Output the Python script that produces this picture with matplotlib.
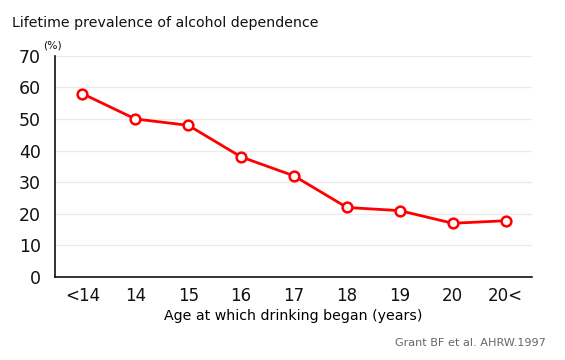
import matplotlib
matplotlib.use("Agg")
import matplotlib.pyplot as plt

# age groups and prevalence (%)
ages = ["<14", "14", "15", "16", "17", "18", "19", "20", "20<"]
prevalence = [58, 50, 48, 38, 32, 22, 21, 17, 17.8]
yticks = [0, 10, 20, 30, 40, 50, 60, 70]

plt.rcParams['font.family'] = ['DejaVu Sans']

fig = plt.figure(figsize=(5.65, 3.6), dpi=100)
ax = fig.add_axes([0.0973, 0.2306, 0.8443, 0.6144])

x = list(range(len(ages)))
ax.plot(x, prevalence, color="#ff0000", linewidth=2, marker="o",
        markersize=7, markerfacecolor="white", markeredgecolor="#ff0000",
        markeredgewidth=1.8, zorder=3)

ax.set_xlim(-0.52, 8.5)
ax.set_ylim(0, 70)
ax.set_yticks(yticks)
ax.set_xticks(x)
ax.set_xticklabels(ages, fontsize=12)
ax.set_yticklabels([str(t) for t in yticks], fontsize=12.5)
ax.tick_params(axis="both", length=0, colors="#111111")
ax.tick_params(axis="y", pad=10)
ax.tick_params(axis="x", pad=7)

ax.grid(axis="y", color="#ebebeb", linewidth=1)
ax.set_axisbelow(True)
for s in ["top", "right"]:
    ax.spines[s].set_visible(False)
for s in ["left", "bottom"]:
    ax.spines[s].set_color("#111111")
    ax.spines[s].set_linewidth(1.2)

ax.set_xlabel("Age at which drinking began (years)", fontsize=10.2, labelpad=3)

fig.text(12 / 565, 1 - 23 / 360, "Lifetime prevalence of alcohol dependence",
         fontsize=10.2, va="center", ha="left", color="#111111")
fig.text(52.5 / 565, 1 - 46 / 360, "(%)", fontsize=7.8, va="center", ha="center",
         color="#111111")
fig.text(546 / 565, 1 - 343 / 360, "Grant BF et al. AHRW.1997", fontsize=8.1,
         va="center", ha="right", color="#666666")

fig.savefig("out.png", dpi=100)
